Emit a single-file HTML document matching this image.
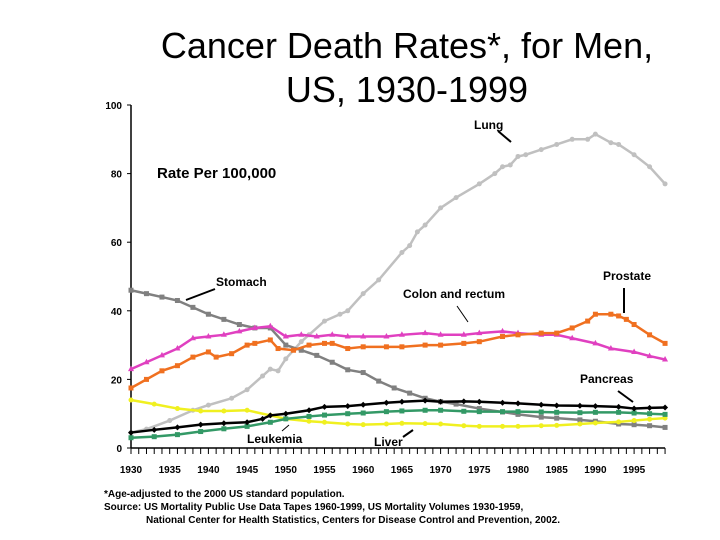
<!DOCTYPE html>
<html><head><meta charset="utf-8"><style>
body{margin:0;background:#fff;}
svg{display:block;font-family:"Liberation Sans",sans-serif;}
</style></head><body>
<svg width="720" height="540" viewBox="0 0 720 540">
<text x="407" y="58" font-size="36" text-anchor="middle">Cancer Death Rates*, for Men,</text>
<text x="407" y="102" font-size="36" text-anchor="middle">US, 1930-1999</text>
<text x="157" y="178" font-size="15" font-weight="bold">Rate Per 100,000</text>
<g id="axes"></g>
<g id="series"></g>
<g font-size="12" font-weight="bold">
<text x="474" y="129">Lung</text>
<line x1="498" y1="131" x2="511" y2="142" stroke="#000" stroke-width="2"/>
<text x="216" y="286">Stomach</text>
<line x1="215" y1="289" x2="186" y2="300" stroke="#000" stroke-width="2"/>
<text x="403" y="298">Colon and rectum</text>
<line x1="457" y1="306" x2="468" y2="322" stroke="#000" stroke-width="1"/>
<text x="603" y="280">Prostate</text>
<line x1="624" y1="288" x2="624" y2="313" stroke="#000" stroke-width="2"/>
<text x="580" y="383">Pancreas</text>
<line x1="618" y1="391" x2="633" y2="402" stroke="#000" stroke-width="2"/>
<text x="247" y="443">Leukemia</text>
<line x1="282" y1="431" x2="289" y2="425" stroke="#000" stroke-width="1"/>
<text x="374" y="446">Liver</text>
<line x1="403" y1="437" x2="413" y2="430" stroke="#000" stroke-width="2"/>
</g>
<g font-size="10" font-weight="bold">
<text x="104" y="497">*Age-adjusted to the 2000 US standard population.</text>
<text x="104" y="510">Source: US Mortality Public Use Data Tapes 1960-1999, US Mortality Volumes 1930-1959,</text>
<text x="146" y="523">National Center for Health Statistics, Centers for Disease Control and Prevention, 2002.</text>
</g>
</svg>
<script>
const yTicks=[0,20,40,60,80,100];
const xTickLabels=[1930,1935,1940,1945,1950,1955,1960,1965,1970,1975,1980,1985,1990,1995];
const lungYears=[1930,1932,1935,1938,1940,1943,1945,1947,1948,1949,1950,1952,1953,1955,1957,1958,1960,1962,1965,1966,1967,1968,1970,1972,1975,1977,1978,1979,1980,1981,1983,1985,1987,1989,1990,1992,1993,1995,1997,1999];
const lungValues=[4.5,5.5,8,11,12.5,14.5,17,21,23,22.5,26,31,33,37,39,40,45,49,57,59,63,65,70,73,77,80,82,82.5,85,85.5,87,88.5,90,90,91.5,89,88.5,85.5,82,77];
const stomachYears=[1930,1932,1934,1936,1938,1940,1942,1944,1946,1948,1950,1952,1954,1956,1958,1960,1962,1964,1966,1968,1970,1972,1975,1978,1980,1983,1985,1988,1990,1993,1995,1997,1999];
const stomachValues=[46,45,44,43,41,39,37.5,36,35,35,30,28.5,27,25,22.8,22,19.5,17.5,16,14.5,13.5,12.8,11.5,10.5,9.8,9,8.7,8.2,7.8,7,6.8,6.5,6];
const colonYears=[1930,1932,1934,1936,1938,1940,1942,1944,1946,1948,1950,1952,1954,1956,1958,1960,1963,1965,1968,1970,1973,1975,1978,1980,1983,1985,1987,1990,1992,1995,1997,1999];
const colonValues=[23,25,27,29,32,32.5,33,34,35,35.5,32.5,33,32.5,33,32.5,32.5,32.5,33,33.5,33,33,33.5,34,33.5,33,33,32,30.5,29,28,26.8,25.8];
const prostateYears=[1930,1932,1934,1936,1938,1940,1941,1943,1945,1946,1948,1949,1951,1953,1955,1956,1958,1960,1963,1965,1968,1970,1973,1975,1978,1980,1983,1985,1987,1989,1990,1992,1993,1994,1995,1997,1999];
const prostateValues=[17.5,20,22.5,24,26.5,28,26.5,27.5,30,30.5,31.5,29,28.5,30,30.5,30.5,29,29.5,29.5,29.5,30,30,30.5,31,32.5,33,33.5,33.5,35,37,39,39,38.5,37.5,36,33,30.5];
const pancreasYears=[1930,1933,1936,1939,1942,1945,1947,1948,1950,1953,1955,1958,1960,1963,1965,1968,1970,1973,1975,1978,1980,1983,1985,1988,1990,1993,1995,1997,1999];
const pancreasValues=[4.5,5.3,6,6.8,7.2,7.5,8.5,9.5,10,11,12,12.2,12.6,13.2,13.5,13.8,13.5,13.6,13.5,13.2,13,12.6,12.4,12.3,12.2,12,11.5,11.7,11.8];
const leukemiaYears=[1930,1933,1936,1939,1942,1945,1948,1950,1953,1955,1958,1960,1963,1965,1968,1970,1973,1975,1978,1980,1983,1985,1988,1990,1993,1995,1997,1999];
const leukemiaValues=[3,3.3,3.9,4.8,5.6,6.3,7.5,8.5,9.2,9.6,10,10.2,10.6,10.8,11,11,10.7,10.6,10.6,10.6,10.5,10.4,10.3,10.4,10.4,10.2,10,9.8];
const liverYears=[1930,1933,1936,1939,1942,1945,1948,1950,1953,1955,1958,1960,1963,1965,1968,1970,1973,1975,1978,1980,1983,1985,1988,1990,1993,1995,1997,1999];
const liverValues=[14,12.8,11.5,10.8,10.8,11,9.5,8.5,7.8,7.5,7,6.8,7,7.2,7.1,7,6.5,6.3,6.3,6.3,6.5,6.6,7,7.3,7.6,8,8.4,8.7];

const NS='http://www.w3.org/2000/svg';
function xs(yr){return 131+(yr-1930)*7.74;}
function ys(v){return 448-v*3.43;}
function mk(tag,attrs,parent){const e=document.createElementNS(NS,tag);for(const k in attrs)e.setAttribute(k,attrs[k]);parent.appendChild(e);return e;}
const axes=document.getElementById('axes');
const yAxis=mk('line',{x1:131,y1:ys(100),x2:131,y2:448,stroke:'#000','stroke-width':1.5},axes);


const xAxis=mk('line',{x1:131,y1:448,x2:xs(1999),y2:448,stroke:'#000','stroke-width':1.5},axes);


yTicks.forEach(t=>{
  mk('line',{x1:127,y1:ys(t),x2:131,y2:ys(t),stroke:'#000'},axes);
  const tx=mk('text',{x:122,y:ys(t)+4,'font-size':10,'font-weight':'bold','text-anchor':'end'},axes);
  tx.textContent=t;
  
  
});
for(let yr=1930;yr<=1999;yr++){mk('line',{x1:xs(yr),y1:448,x2:xs(yr),y2:454,stroke:'#000'},axes);}
xTickLabels.forEach(t=>{
  const tx=mk('text',{x:xs(t),y:473,'font-size':10,'font-weight':'bold','text-anchor':'middle'},axes);
  tx.textContent=t;
  
  
});
const seriesG=document.getElementById('series');
function drawSeries(name,years,vals,color,marker){
  const g=mk('g',{},seriesG);
  
  
  mk('polyline',{points:years.map((y,i)=>xs(y)+','+ys(vals[i])).join(' '),fill:'none',stroke:color,'stroke-width':2.5},g);
  years.forEach((y,i)=>{
    const cx=xs(y),cy=ys(vals[i]);
    let m;
    if(marker==='sq')m=mk('rect',{x:cx-2.5,y:cy-2.5,width:5,height:5,fill:color},g);
    else if(marker==='tri')m=mk('polygon',{points:`${cx},${cy-3.5} ${cx-3},${cy+2} ${cx+3},${cy+2}`,fill:color},g);
    else if(marker==='dia')m=mk('polygon',{points:`${cx},${cy-3} ${cx+3},${cy} ${cx},${cy+3} ${cx-3},${cy}`,fill:color},g);
    else m=mk('circle',{cx:cx,cy:cy,r:2.5,fill:color},g);
    
    
  });
}
drawSeries('lung',lungYears,lungValues,'#c0c0c0','dot');
drawSeries('stomach',stomachYears,stomachValues,'#808080','sq');
drawSeries('liver',liverYears,liverValues,'#f0f020','dot');
drawSeries('leukemia',leukemiaYears,leukemiaValues,'#339966','sq');
drawSeries('pancreas',pancreasYears,pancreasValues,'#000000','dia');
drawSeries('colon',colonYears,colonValues,'#e040c0','tri');
drawSeries('prostate',prostateYears,prostateValues,'#f07020','sq');
</script>
</body></html>
